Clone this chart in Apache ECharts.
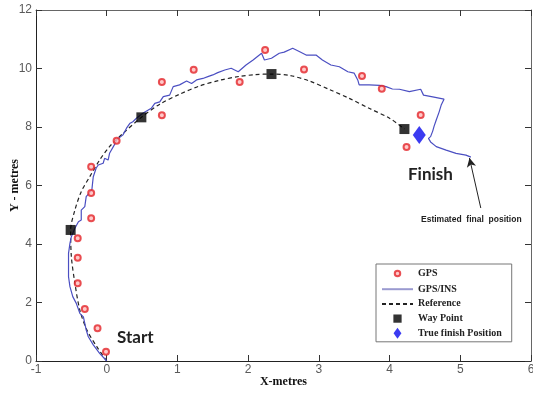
<!DOCTYPE html>
<html>
<head>
<meta charset="utf-8">
<script src="https://cdn.jsdelivr.net/npm/echarts@6/dist/echarts.min.js"></script>
<style>
  html, body { margin: 0; padding: 0; background: #fff; }
  #chart { width: 533px; height: 394px; }
</style>
</head>
<body>
<div id="chart"></div>
<script>
// x ticks and y ticks
const xTicks = [-1, 0, 1, 2, 3, 4, 5, 6]
const yTicks = [0, 2, 4, 6, 8, 10, 12]

// GPS fixes (red circles)
const gpsPoints = [
  [-0.01, 0.32], [-0.13, 1.12], [-0.31, 1.78], [-0.41, 2.66], [-0.41, 3.53],
  [-0.41, 4.2], [-0.22, 4.88], [-0.22, 5.74], [-0.22, 6.64], [0.14, 7.53],
  [0.78, 9.54], [0.78, 8.4], [1.23, 9.96], [1.88, 9.54], [2.24, 10.63],
  [2.79, 9.97], [3.61, 9.74], [3.89, 9.31], [4.44, 8.41], [4.24, 7.32]
]

// GPS/INS track (blue line)
const insTrack = [
  [0, 0], [-0.1, 0.26], [-0.19, 0.55], [-0.26, 0.83], [-0.29, 1.06], [-0.33, 1.51],
  [-0.38, 1.63], [-0.43, 1.97], [-0.48, 2.2], [-0.52, 2.54], [-0.54, 2.88], [-0.52, 2.94],
  [-0.54, 3.34], [-0.54, 3.68], [-0.52, 4.02], [-0.5, 4.25], [-0.45, 4.54], [-0.4, 4.76],
  [-0.36, 4.82], [-0.36, 5.16], [-0.31, 5.28], [-0.29, 5.62], [-0.21, 5.85], [-0.2, 6.08],
  [-0.19, 6.3], [-0.15, 6.59], [-0.12, 6.7], [-0.05, 6.76], [-0.03, 6.93], [0.02, 6.87],
  [0.04, 7.1], [0.12, 7.44], [0.14, 7.56], [0.23, 7.73], [0.28, 7.96], [0.33, 8.13],
  [0.37, 8.18], [0.42, 8.3], [0.51, 8.47], [0.63, 8.64], [0.68, 8.81], [0.75, 8.86],
  [0.8, 9.04], [0.89, 9.09], [0.94, 9.38], [1.03, 9.44], [1.13, 9.57], [1.2, 9.49],
  [1.27, 9.61], [1.36, 9.66], [1.43, 9.72], [1.5, 9.78], [1.57, 9.86], [1.67, 9.95],
  [1.76, 10.01], [1.86, 9.89], [1.97, 10.12], [2.07, 10.29], [2.19, 10.52], [2.23, 10.29],
  [2.33, 10.35], [2.44, 10.52], [2.51, 10.56], [2.63, 10.69], [2.73, 10.57], [2.82, 10.46],
  [2.96, 10.46], [3.05, 10.29], [3.17, 10.12], [3.29, 10.06], [3.41, 9.89], [3.5, 9.84],
  [3.55, 9.61], [3.57, 9.44], [3.71, 9.44], [3.86, 9.42], [3.95, 9.38], [4.04, 9.3],
  [4.14, 9.29], [4.28, 9.21], [4.44, 9.29], [4.48, 9.09], [4.61, 9.03], [4.77, 8.95],
  [4.73, 8.75], [4.7, 8.51], [4.66, 8.24], [4.63, 8.03], [4.61, 7.86], [4.58, 7.67],
  [4.55, 7.61], [4.58, 7.49], [4.66, 7.33], [4.8, 7.21], [4.94, 7.1], [5.08, 7.04],
  [5.15, 6.97]
]

// reference path (dashed)
const referencePath = [
  [0, 0], [-0.14, 0.49], [-0.28, 1.06], [-0.38, 1.74], [-0.45, 2.66], [-0.5, 3.57],
  [-0.51, 4.48], [-0.45, 5.16], [-0.36, 5.79], [-0.24, 6.3], [-0.1, 6.87], [0.04, 7.33],
  [0.23, 7.78], [0.49, 8.33], [0.75, 8.78], [1.03, 9.12], [1.31, 9.4], [1.6, 9.6],
  [1.88, 9.73], [2.1, 9.79], [2.33, 9.81], [2.59, 9.76], [2.87, 9.57], [3.15, 9.28],
  [3.43, 8.98], [3.71, 8.64], [4.0, 8.3], [4.21, 7.93]
]

const wayPoints = [[-0.51, 4.48], [0.49, 8.33], [2.33, 9.81], [4.21, 7.93]]
const trueFinish = [[4.42, 7.73]]

// arrow from the note up to the end of the track
const arrowFrom = [5.29, 5.23]
const arrowTo = [5.13, 6.94]

const serif = 'Liberation Serif'
const frameDark = '#222'
const frameLight = '#666'

function frameAxis(pos, isX, showLabel) {
  return {
    type: 'value',
    position: pos,
    min: isX ? xTicks[0] : yTicks[0],
    max: isX ? xTicks[xTicks.length - 1] : yTicks[yTicks.length - 1],
    interval: isX ? 1 : 2,
    axisLine: { show: true, onZero: false, lineStyle: { color: showLabel ? frameDark : frameLight, width: 1 } },
    axisTick: { show: true, inside: true, length: 6, lineStyle: { color: '#333' } },
    splitLine: { show: false },
    axisLabel: {
      show: showLabel,
      color: '#5a5a5a',
      fontFamily: 'Liberation Sans',
      fontSize: 12,
      margin: isX ? 3 : 4
    }
  }
}

function buildOption() {
  const xMain = frameAxis('bottom', true, true)
  xMain.name = 'X-metres'
  xMain.nameLocation = 'middle'
  xMain.nameGap = 15
  xMain.nameMoveOverlap = false
  xMain.nameTextStyle = { fontFamily: serif, fontWeight: 'bold', fontSize: 12, color: '#111' }

  const yMain = frameAxis('left', false, true)
  yMain.name = 'Y - metres'
  yMain.nameLocation = 'middle'
  yMain.nameGap = 15
  yMain.nameRotate = 90
  yMain.nameMoveOverlap = false
  yMain.nameTextStyle = { fontFamily: serif, fontWeight: 'bold', fontSize: 12, color: '#111' }

  const hideSymbol = { opacity: 0 }

  return {
    animation: false,
    backgroundColor: '#fff',
    grid: { left: 36, right: 2, top: 10, bottom: 33, containLabel: false, outerBoundsMode: 'none' },
    xAxis: [xMain, frameAxis('top', true, false)],
    yAxis: [yMain, frameAxis('right', false, false)],
    legend: {
      orient: 'vertical',
      left: 376,
      top: 264,
      padding: [3, 10, 3, 5],
      itemGap: 3.7,
      itemWidth: 31,
      itemHeight: 11,
      borderColor: '#777',
      borderWidth: 1,
      backgroundColor: '#fff',
      textStyle: { fontFamily: serif, fontWeight: 'bold', fontSize: 10, color: '#222', lineHeight: 11 },
      data: [
        { name: 'GPS', icon: 'path://M0,0M12,12M3,6a3,3 0 1,0 6,0a3,3 0 1,0 -6,0z' },
        { name: 'GPS/INS', itemStyle: hideSymbol, lineStyle: { color: '#9a9ad0' } },
        { name: 'Reference', itemStyle: hideSymbol },
        { name: 'Way Point', icon: 'path://M0,0M12,12M1.5,1.5h9v9h-9z' },
        { name: 'True finish Position', icon: 'path://M5,0L10,7L5,14L0,7Z' }
      ]
    },
    graphic: [
      { type: 'text', x: 117, y: 338, style: { text: 'Start', font: 'bold 17px Lato', fill: '#222', verticalAlign: 'middle' } },
      { type: 'text', x: 408, y: 175, style: { text: 'Finish', font: 'bold 17px Lato', fill: '#222', verticalAlign: 'middle' } },
      { type: 'text', x: 421, y: 220, style: { text: 'Estimated  final  position', font: 'bold 8.5px "Liberation Sans"', fill: '#222', verticalAlign: 'middle' } }
    ],
    series: [
      {
        name: 'Reference',
        type: 'line',
        data: referencePath,
        symbol: 'none',
        smooth: 0.3,
        lineStyle: { color: '#222', width: 1.2, type: [4, 3] },
        z: 2
      },
      {
        name: 'GPS/INS',
        type: 'line',
        data: insTrack,
        symbol: 'none',
        lineStyle: { color: '#4b4fc2', width: 1.2 },
        z: 3,
        markLine: {
          silent: true,
          symbol: ['none', 'arrow'],
          symbolSize: [7, 9],
          label: { show: false },
          lineStyle: { color: '#222', width: 1, type: 'solid' },
          data: [[{ coord: arrowFrom }, { coord: arrowTo }]]
        }
      },
      {
        name: 'GPS',
        type: 'scatter',
        data: gpsPoints,
        symbol: 'circle',
        symbolSize: 6,
        itemStyle: { color: '#ffbcbc', borderColor: '#e3262a', borderWidth: 2 },
        z: 4
      },
      {
        name: 'Way Point',
        type: 'scatter',
        data: wayPoints,
        symbol: 'rect',
        symbolSize: 10,
        itemStyle: { color: '#000' },
        z: 5
      },
      {
        name: 'True finish Position',
        type: 'scatter',
        data: trueFinish,
        symbol: 'diamond',
        symbolSize: [13, 18],
        itemStyle: { color: '#0a0aee' },
        z: 5
      }
    ]
  }
}

const chart = echarts.init(document.getElementById('chart'))
chart.setOption(buildOption())
</script>
</body>
</html>
